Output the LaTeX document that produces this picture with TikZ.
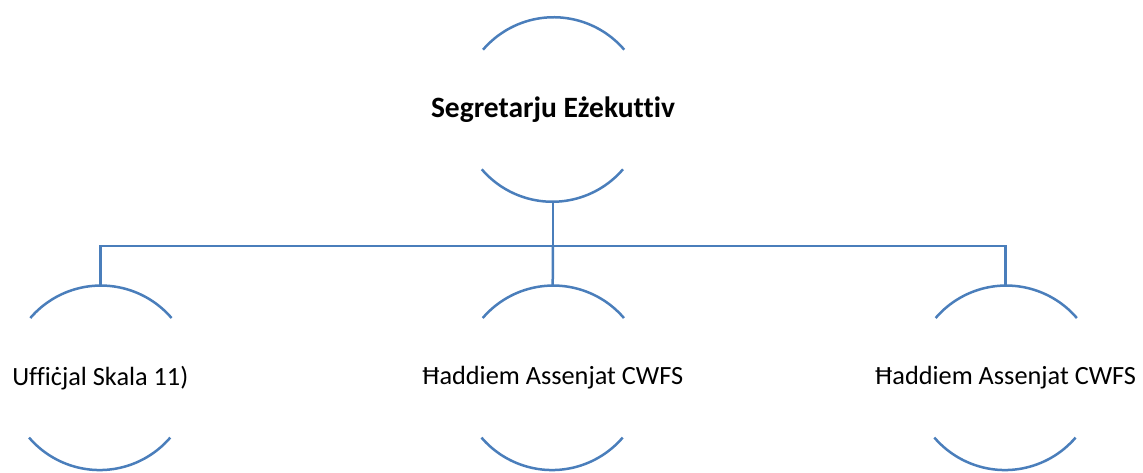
\documentclass[tikz,border=0pt]{standalone}
\usepackage{fontspec}
\setmainfont{Carlito}[Ligatures={NoCommon}]
\definecolor{arcblue}{RGB}{74,126,187}
\tikzset{
  ring/.style={circle, minimum size=186pt, inner sep=0pt, outer sep=0pt},
  arcline/.style={draw=arcblue, line width=2.5pt},
  conn/.style={draw=arcblue, line width=2.5pt},
  lbl/.style={font=\fontsize{26.3}{31}\selectfont, inner sep=0pt},
  toplbl/.style={font=\fontsize{29.5}{35}\selectfont\bfseries, inner sep=0pt},
}
\begin{document}
\begin{tikzpicture}[x=1pt,y=1pt]
\useasboundingbox (0,0) rectangle (1143,472);
\node[ring] (top) at (553,362.5) {};
\node[ring] (c1) at (100.3,94.2) {};
\node[ring] (c2) at (552.7,94.2) {};
\node[ring] (c3) at (1005.6,94.2) {};
\foreach \n in {top,c1,c2,c3}{
  \draw[arcline] (\n.40.6) arc[start angle=40.6, end angle=139.4, radius=93pt];
  \draw[arcline] (\n.220.6) arc[start angle=220.6, end angle=319.4, radius=93pt];
}
\node[toplbl] (ttop) at (top) {Segretarju Eżekuttiv};
\node[lbl] (t1) at (c1) {Uffiċjal Skala 11)};
\node[lbl] (t2) at (c2) {Ħaddiem Assenjat CWFS};
\node[lbl] (t3) at (c3) {Ħaddiem Assenjat CWFS};
\coordinate (bus) at (553,226);
\draw[conn] (top.south) -- (bus);
\draw[conn] (bus) -| (c1.north);
\draw[conn] (bus) -| (c3.north);
\draw[conn] (bus) -- (c2.north);
\end{tikzpicture}
\end{document}
